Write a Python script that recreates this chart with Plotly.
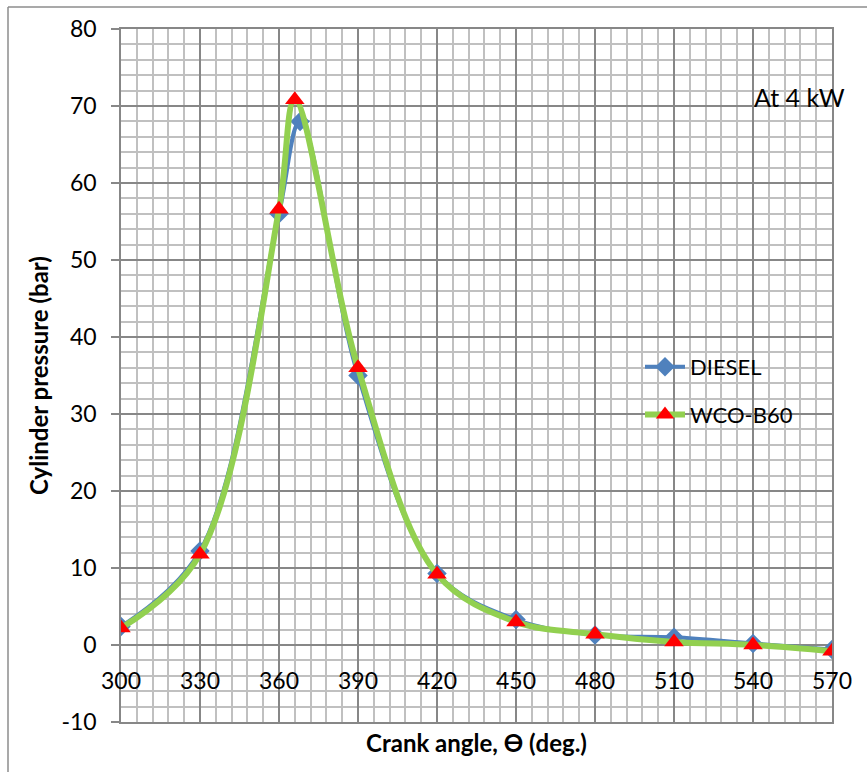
import plotly.graph_objects as go

crank_diesel = [300, 330, 360, 368, 390, 420, 450, 480, 510, 540, 570]
p_diesel = [2.4, 12.2, 56.0, 68.0, 35.0, 9.3, 3.3, 1.3, 1.0, 0.2, -0.6]

crank_wco = [300, 330, 360, 366, 390, 420, 450, 480, 510, 540, 570]
p_wco = [2.2, 11.8, 56.6, 70.8, 36.0, 9.2, 3.0, 1.4, 0.4, 0.0, -0.8]

x_ticks = [300, 330, 360, 390, 420, 450, 480, 510, 540, 570]
y_ticks = [-10, 0, 10, 20, 30, 40, 50, 60, 70, 80]
y_tick_text = ["-10", "0", "10", "20", "30", "40", "50", "60", "70", "80"]

FONT = "Lato"
W, H = 867, 772
ML, MR, MT, MB = 121, 35, 29, 50

fig = go.Figure()
fig.add_trace(go.Scatter(
    x=crank_diesel, y=p_diesel, name="DIESEL", mode="lines+markers",
    line=dict(color="#4F81BD", width=4, shape="spline", smoothing=1.0),
    marker=dict(symbol="diamond", size=15, color="#4F81BD"),
    legendgroup="a",
))
fig.add_trace(go.Scatter(
    x=crank_wco, y=p_wco, name="WCO-B60", mode="lines+markers",
    line=dict(color="#92D050", width=6, shape="spline", smoothing=1.0),
    marker=dict(symbol="triangle-up", size=17, color="#FF0000"),
    legendgroup="b",
))

for xv in x_ticks:
    fig.add_annotation(x=xv, y=0, xref="x", yref="y", text=str(xv), showarrow=False,
                       yshift=-35, font=dict(family=FONT, size=23, color="#000000"))

pw = W - ML - MR
ph = H - MT - MB
fig.add_annotation(xref="paper", yref="paper", x=(752 - ML) / pw, y=(H - MB - 97) / ph,
                   xanchor="left", yanchor="middle", text="At 4 kW", showarrow=False,
                   font=dict(family=FONT, size=25, color="#000000"))

# chart border
fig.add_shape(type="line", xref="paper", yref="paper",
              x0=(8 - ML) / pw, x1=(W - ML) / pw, y0=(H - MB - 7) / ph, y1=(H - MB - 7) / ph,
              line=dict(color="#8C8C8C", width=1.5))
fig.add_shape(type="line", xref="paper", yref="paper",
              x0=(8 - ML) / pw, x1=(8 - ML) / pw, y0=(H - MB - 7) / ph, y1=(H - MB - H) / ph,
              line=dict(color="#8C8C8C", width=1.5))

fig.update_layout(
    width=W, height=H,
    margin=dict(l=ML, r=MR, t=MT, b=MB),
    paper_bgcolor="white", plot_bgcolor="white",
    font=dict(family=FONT, color="#000000"),
    showlegend=True,
    legend=dict(x=(640 - ML) / pw, y=(H - MB - 391) / ph, xanchor="left", yanchor="middle",
                bgcolor="rgba(0,0,0,0)", font=dict(family=FONT, size=22),
                tracegroupgap=16, itemwidth=40),
    xaxis=dict(
        range=[300, 570], tickvals=x_ticks, showticklabels=False,
        showgrid=True, gridcolor="#878787", gridwidth=1.5,
        minor=dict(dtick=6, tick0=300, showgrid=True, gridcolor="#C0C0C0", gridwidth=1.5),
        zeroline=False, showline=True, linecolor="#878787", linewidth=1.5, mirror=True,
        title=dict(text="<b>Crank angle, ϴ (deg.)</b>", font=dict(family=FONT, size=24), standoff=12),
    ),
    yaxis=dict(
        range=[-10, 80], tickvals=y_ticks, ticktext=y_tick_text,
        showgrid=True, gridcolor="#878787", gridwidth=1.5,
        minor=dict(dtick=2, tick0=0, showgrid=True, gridcolor="#C0C0C0", gridwidth=1.5),
        ticks="outside", ticklen=8, tickcolor="#878787", tickwidth=1.5,
        ticklabelstandoff=10,
        tickfont=dict(family=FONT, size=23, color="#000000"),
        zeroline=False, showline=True, linecolor="#878787", linewidth=1.5, mirror=True,
        title=dict(text="<b>Cylinder pressure (bar)</b>", font=dict(family=FONT, size=24), standoff=6),
    ),
)

fig.write_html("out.html")
